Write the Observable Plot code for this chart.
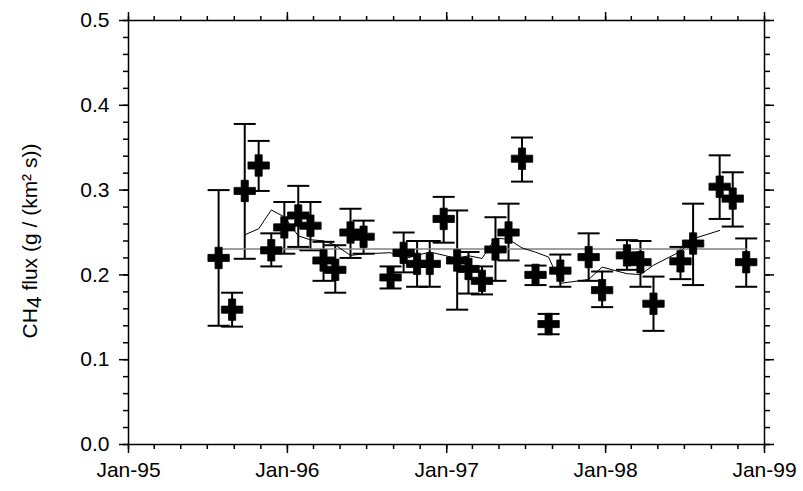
<!DOCTYPE html>
<html>
<head>
<meta charset="utf-8">
<script src="https://cdn.jsdelivr.net/npm/d3@7"></script>
<script src="https://cdn.jsdelivr.net/npm/@observablehq/plot@0.6"></script>
<style>
  html, body { margin: 0; padding: 0; background: #ffffff; }
  #chart svg { display: block; }
</style>
</head>
<body>
<div id="chart"></div>
<script>
// ---- data ----
const sampleDates = [
  "1995-07-27","1995-08-27","1995-09-25","1995-10-27","1995-11-25","1995-12-25",
  "1996-01-26","1996-02-23","1996-03-24","1996-04-20","1996-05-25","1996-06-24",
  "1996-08-25","1996-09-24","1996-10-25","1996-11-23","1996-12-25",
  "1997-01-25","1997-02-20","1997-03-23","1997-04-23","1997-05-23","1997-06-23",
  "1997-07-24","1997-08-23","1997-09-19","1997-11-23","1997-12-24",
  "1998-02-19","1998-03-22","1998-04-21","1998-06-22","1998-07-21",
  "1998-09-20","1998-10-20","1998-11-20"
];
const fluxValues = [
  0.220, 0.159, 0.299, 0.329, 0.229, 0.256,
  0.270, 0.258, 0.217, 0.206, 0.250, 0.245,
  0.197, 0.226, 0.213, 0.213, 0.266,
  0.217, 0.207, 0.193, 0.230, 0.250, 0.337,
  0.200, 0.142, 0.205, 0.221, 0.182,
  0.223, 0.215, 0.166, 0.216, 0.237,
  0.304, 0.290, 0.215
];
const fluxLow = [
  0.140, 0.139, 0.219, 0.299, 0.210, 0.225,
  0.233, 0.229, 0.193, 0.179, 0.220, 0.225,
  0.184, 0.203, 0.186, 0.186, 0.238,
  0.159, 0.178, 0.177, 0.193, 0.217, 0.310,
  0.188, 0.130, 0.186, 0.193, 0.162,
  0.206, 0.186, 0.134, 0.195, 0.188,
  0.266, 0.257, 0.186
];
const fluxHigh = [
  0.300, 0.179, 0.378, 0.358, 0.249, 0.286,
  0.305, 0.286, 0.239, 0.235, 0.278, 0.264,
  0.210, 0.250, 0.240, 0.240, 0.292,
  0.276, 0.227, 0.210, 0.268, 0.284, 0.362,
  0.211, 0.154, 0.224, 0.249, 0.204,
  0.241, 0.240, 0.198, 0.233, 0.284,
  0.341, 0.321, 0.243
];

// axis ticks
const xDomain = [new Date("1995-01-01"), new Date("1999-01-01")];
const xMajorTicks = d3.utcYears(new Date("1995-01-01"), new Date("1999-01-02"));
const xMinorTicks = d3.utcMonths(new Date("1995-01-01"), new Date("1999-01-02"), 2);
const yMajorTicks = [0, 0.1, 0.2, 0.3, 0.4, 0.5];
const yMinorTicks = d3.range(0, 26).map(i => i * 0.02);

const data = sampleDates.map((d, i) => ({
  date: new Date(d), flux: fluxValues[i], lo: fluxLow[i], hi: fluxHigh[i]
}));

// horizontal error-bar cap symbol
const capSymbol = {
  draw(context, size) {
    const r = Math.sqrt(size / Math.PI);
    context.moveTo(-r, 0);
    context.lineTo(r, 0);
  }
};

// overall mean of the series, applied by the map transform
const meanMap = values => {
  const m = d3.mean(values);
  return Array.from(values, () => m);
};

const noText = () => "";
const tickStyle = {stroke: "black", strokeWidth: 1.5, label: null};

const plot = Plot.plot({
  width: 803,
  height: 491,
  marginLeft: 128,
  marginRight: 39,
  marginTop: 20,
  marginBottom: 47,
  style: {
    fontFamily: "'Liberation Sans', Arial, sans-serif",
    fontSize: "21px",
    background: "#ffffff",
    color: "black"
  },
  x: {type: "utc", domain: xDomain, label: null},
  y: {domain: [0, 0.5], label: null},
  marks: [
    // axes: minor ticks
    Plot.axisX({...tickStyle, anchor: "bottom", ticks: xMinorTicks, tickSize: 5, tickFormat: noText}),
    Plot.axisX({...tickStyle, anchor: "top", ticks: xMinorTicks, tickSize: 5, tickFormat: noText}),
    Plot.axisY({...tickStyle, anchor: "left", ticks: yMinorTicks, tickSize: 5, tickFormat: noText}),
    Plot.axisY({...tickStyle, anchor: "right", ticks: yMinorTicks, tickSize: 5, tickFormat: noText}),
    // axes: major ticks
    Plot.axisX({...tickStyle, anchor: "bottom", ticks: xMajorTicks, tickSize: 9, tickPadding: 9,
      tickFormat: d3.utcFormat("%b-%y"), fill: "black"}),
    Plot.axisX({...tickStyle, anchor: "top", ticks: xMajorTicks, tickSize: 9, tickFormat: noText}),
    Plot.axisY({...tickStyle, anchor: "left", ticks: yMajorTicks, tickSize: 9, tickPadding: 10,
      tickFormat: d3.format(".1f"), fill: "black"}),
    Plot.axisY({...tickStyle, anchor: "right", ticks: yMajorTicks, tickSize: 9, tickFormat: noText}),
    Plot.frame({stroke: "black", strokeWidth: 1.5}),
    // error bars
    Plot.ruleX(data, {x: "date", y1: "lo", y2: "hi", stroke: "black", strokeWidth: 2}),
    Plot.dot(data, {x: "date", y: "lo", symbol: capSymbol, r: 11, stroke: "black", strokeWidth: 2, fill: "none"}),
    Plot.dot(data, {x: "date", y: "hi", symbol: capSymbol, r: 11, stroke: "black", strokeWidth: 2, fill: "none"}),
    // overall mean
    Plot.lineY(data, Plot.mapY(meanMap, {x: "date", y: "flux", stroke: "#808080", strokeWidth: 1.5})),
    // 5-point running mean
    Plot.lineY(data, Plot.windowY({k: 5, anchor: "middle", strict: true},
      {x: "date", y: "flux", stroke: "black", strokeWidth: 1})),
    // monthly flux markers
    Plot.dot(data, {x: "date", y: "flux", symbol: "cross", r: 9, fill: "black", stroke: "black", strokeWidth: 0.8})
  ]
});

// y-axis title with subscript
const label = d3.select(plot).append("text")
  .attr("transform", "translate(37,241) rotate(-90)")
  .attr("text-anchor", "middle")
  .attr("fill", "black")
  .attr("font-size", 21)
  .attr("font-family", "'Liberation Sans', Arial, sans-serif");
label.append("tspan").text("CH");
label.append("tspan").attr("dy", 4).text("4");
label.append("tspan").attr("dy", -4).text(" flux (g / (km² s))");

document.getElementById("chart").appendChild(plot);
</script>
</body>
</html>
